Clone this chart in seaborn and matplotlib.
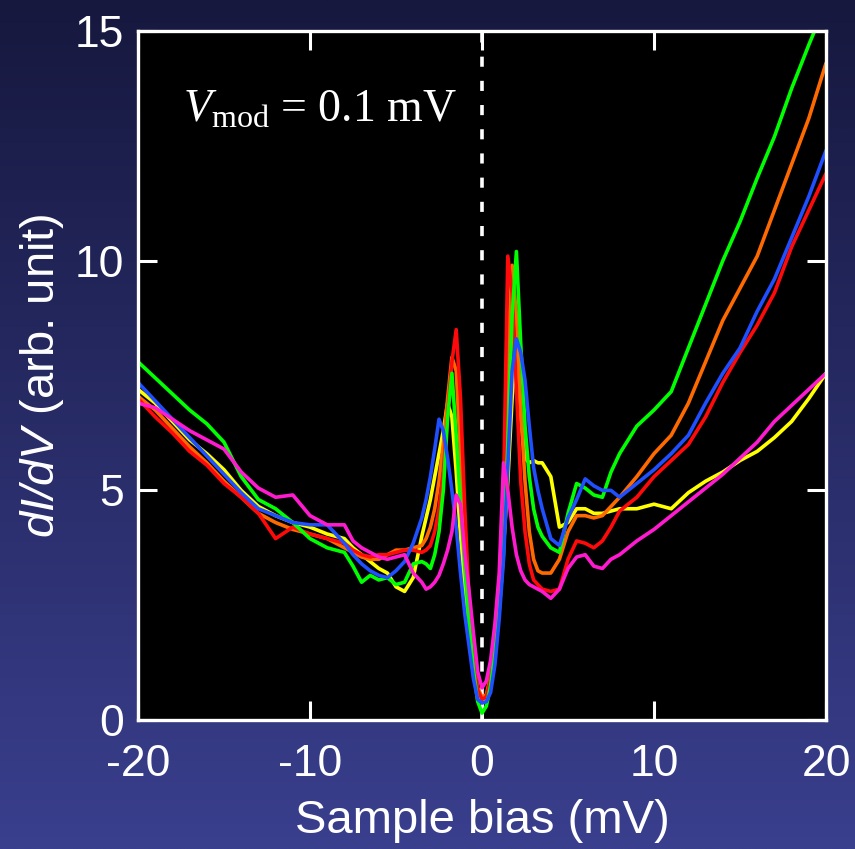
import numpy as np
import pandas as pd
import matplotlib
matplotlib.use("Agg")
import matplotlib.pyplot as plt
import seaborn as sns

# ---------------- data ----------------
bias = [-20, -19, -18, -17, -16, -15, -14, -13, -12, -11, -10, -9, -8,
        -7.5, -7, -6.5, -6, -5.5, -5, -4.5, -4, -3.5,
        -3.25, -3, -2.75, -2.5, -2.25, -2, -1.75, -1.5, -1.25, -1, -0.75, -0.5, -0.25,
        0, 0.25, 0.5, 0.75, 1, 1.25, 1.5, 1.75, 2, 2.25, 2.5, 2.75, 3, 3.25,
        3.5, 4, 4.5, 5, 5.5, 6, 6.5, 7, 7.5,
        8, 9, 10, 11, 12, 13, 14, 15, 16, 17, 18, 19, 20]

green = [7.8, 7.45, 7.1, 6.75, 6.45, 6.05, 5.3, 4.8, 4.6, 4.3, 3.95, 3.75, 3.65,
         3.35, 3.0, 3.15, 3.05, 3.1, 2.95, 3.0, 3.4, 3.45,
         3.4, 3.3, 3.6, 4.1, 5.0, 6.6, 7.55, 6.2, 4.7, 3.3, 2.1, 1.1, 0.4,
         0.15, 0.3, 0.75, 1.5, 2.4, 3.6, 6.0, 8.8, 10.2, 8.2, 6.4, 5.3, 4.6, 4.2,
         4.0, 3.75, 3.65, 4.5, 5.15, 5.05, 4.9, 4.85, 5.4,
         5.8, 6.4, 6.75, 7.15, 8.1, 9.05, 10.0, 10.85, 11.8, 12.7, 13.75, 14.7, 15.6]

orange = [7.05, 6.75, 6.35, 5.95, 5.6, 5.2, 4.85, 4.5, 4.3, 4.15, 4.05, 3.95, 3.75,
          3.65, 3.55, 3.5, 3.5, 3.6, 3.7, 3.7, 3.75, 3.8,
          3.95, 4.2, 4.6, 5.2, 6.0, 7.0, 7.9, 7.6, 5.8, 3.8, 2.4, 1.3, 0.7,
          0.5, 0.55, 0.95, 1.7, 2.7, 4.5, 8.0, 9.9, 8.8, 6.8, 5.2, 4.1, 3.5, 3.25,
          3.2, 3.2, 3.5, 4.1, 4.45, 4.45, 4.4, 4.45, 4.65,
          4.85, 5.3, 5.8, 6.2, 6.9, 7.8, 8.7, 9.4, 10.1, 11.1, 12.1, 13.1, 14.3]

red = [7.0, 6.6, 6.25, 5.85, 5.55, 5.15, 4.85, 4.5, 3.95, 4.2, 4.05, 3.95, 3.85,
       3.7, 3.6, 3.55, 3.6, 3.6, 3.65, 3.7, 3.7, 3.65,
       3.7, 3.8, 4.1, 4.6, 5.4, 6.6, 7.8, 8.5, 7.0, 4.6, 2.6, 1.3, 0.65,
       0.45, 0.5, 0.9, 1.6, 2.7, 5.0, 10.1, 9.3, 7.2, 5.2, 4.1, 3.4, 3.05, 2.95,
       2.85, 2.8, 2.85, 3.5, 3.9, 3.85, 3.75, 3.9, 4.2,
       4.55, 4.85, 5.3, 5.65, 6.0, 6.6, 7.35, 8.0, 8.6, 9.3, 10.3, 11.1, 11.9]

blue = [7.35, 6.95, 6.55, 6.15, 5.75, 5.35, 4.95, 4.6, 4.45, 4.3, 4.25, 4.25, 3.85,
        3.6, 3.4, 3.25, 3.15, 3.1, 3.25, 3.45, 3.85, 4.4,
        4.8, 5.3, 5.9, 6.55, 6.3, 5.7, 5.0, 4.2, 3.2, 2.3, 1.6, 0.9, 0.45,
        0.37, 0.4, 0.6, 1.2, 2.2, 3.5, 5.5, 7.6, 8.3, 8.0, 7.4, 6.4, 5.5, 5.0,
        4.6, 3.95, 3.8, 4.4, 4.8, 5.25, 5.1, 5.0, 5.0,
        4.85, 5.15, 5.45, 5.8, 6.2, 6.9, 7.55, 8.1, 8.9, 9.6, 10.5, 11.4, 12.4]

yellow = [7.2, 6.9, 6.5, 6.1, 5.8, 5.45, 5.0, 4.65, 4.45, 4.3, 4.2, 4.05, 3.95,
          3.75, 3.6, 3.45, 3.3, 3.2, 2.9, 2.8, 3.1, 4.0,
          4.4, 4.8, 5.3, 5.8, 6.3, 6.9, 6.6, 5.4, 4.0, 2.8, 1.9, 1.1, 0.55,
          0.4, 0.45, 0.8, 1.5, 2.5, 3.8, 5.2, 7.0, 8.2, 6.6, 5.7, 5.6, 5.65, 5.6,
          5.6, 5.3, 4.2, 4.3, 4.6, 4.6, 4.5, 4.5, 4.55,
          4.6, 4.6, 4.7, 4.6, 4.95, 5.2, 5.4, 5.65, 5.85, 6.15, 6.5, 7.0, 7.55]

magenta = [6.9, 6.8, 6.55, 6.3, 6.1, 5.9, 5.4, 5.05, 4.85, 4.9, 4.45, 4.25, 4.25,
           3.9, 3.75, 3.65, 3.55, 3.5, 3.55, 3.6, 3.2, 3.0,
           2.85, 2.9, 3.0, 3.15, 3.4, 3.7, 4.1, 4.9, 4.7, 3.6, 2.8, 1.9, 1.05,
           0.7, 0.85, 1.3, 2.1, 3.2, 5.6, 5.0, 4.2, 3.6, 3.25, 3.05, 2.95, 2.9, 2.85,
           2.8, 2.65, 2.85, 3.3, 3.55, 3.6, 3.35, 3.3, 3.5,
           3.6, 3.9, 4.15, 4.45, 4.75, 5.05, 5.35, 5.7, 6.05, 6.5, 6.85, 7.2, 7.55]

series_names = ["yellow", "orange", "red", "green", "blue", "magenta"]
series_values = [yellow, orange, red, green, blue, magenta]
series_colors = {"yellow": "#ffff00", "orange": "#ff6a00", "red": "#ff0a0a",
                 "green": "#00ff00", "blue": "#1f4fff", "magenta": "#ff1ad0"}

x_ticks = [-20, -10, 0, 10, 20]
y_ticks = [0, 5, 10, 15]

df = pd.concat([pd.DataFrame({"bias": bias, "didv": v, "curve": n})
                for n, v in zip(series_names, series_values)], ignore_index=True)

# ---------------- style ----------------
sns.set_theme(style="dark")
plt.rcParams["font.family"] = ["Liberation Sans", "DejaVu Sans"]
plt.rcParams["mathtext.fontset"] = "custom"
plt.rcParams["mathtext.rm"] = "Liberation Serif"
plt.rcParams["mathtext.it"] = "Liberation Serif:italic"
plt.rcParams["mathtext.sf"] = "Liberation Sans:italic"

fig = plt.figure(figsize=(8.55, 8.49), dpi=100)

# gradient background
bg = fig.add_axes([0, 0, 1, 1], zorder=-10)
top = np.array([22, 24, 62]) / 255.0
bot = np.array([58, 63, 142]) / 255.0
t = np.linspace(0, 1, 256)[:, None]
grad = (top[None, :] * (1 - t) + bot[None, :] * t)[:, None, :]
grad = np.repeat(grad, 2, axis=1)
bg.imshow(grad, aspect="auto", extent=[0, 1, 0, 1], interpolation="bilinear")
bg.set_axis_off()

ax = fig.add_axes([0.1614, 0.1519, 0.8047, 0.8115])
ax.set_facecolor("black")

sns.lineplot(data=df, x="bias", y="didv", hue="curve", hue_order=series_names,
             palette=series_colors, linewidth=2.6, legend=False, sort=False,
             estimator=None, ax=ax)

ax.axvline(0, color="white", lw=2.6, ls=(0, (2.8, 3.9)), zorder=1)

ax.set_xlim(-20, 20)
ax.set_ylim(0, 15)
ax.set_xticks(x_ticks)
ax.set_yticks(y_ticks)
ax.set_xticklabels([str(v) for v in x_ticks])
ax.set_yticklabels([str(v) for v in y_ticks])
ax.tick_params(axis="both", which="both", direction="in", length=14, width=2.2,
               color="white", labelcolor="white", labelsize=32,
               top=True, right=True, bottom=True, left=True, pad=10)
ax.tick_params(axis="x", pad=17)
for s in ax.spines.values():
    s.set_color("white")
    s.set_linewidth(2.4)
    s.set_visible(True)
ax.grid(False)

ax.set_xlabel("Sample bias (mV)", color="white", fontsize=34, labelpad=10)
ax.set_ylabel(r"$\mathsf{dI/dV}$ (arb. unit)", color="white", fontsize=34, labelpad=6)

ax.text(0.066, 0.868, r"$V_{\mathrm{mod}}$ = 0.1 mV", transform=ax.transAxes,
        color="white", fontsize=33, family=["Liberation Serif", "DejaVu Serif"],
        ha="left", va="baseline")

fig.savefig("out.png", dpi=100, facecolor=fig.get_facecolor())
